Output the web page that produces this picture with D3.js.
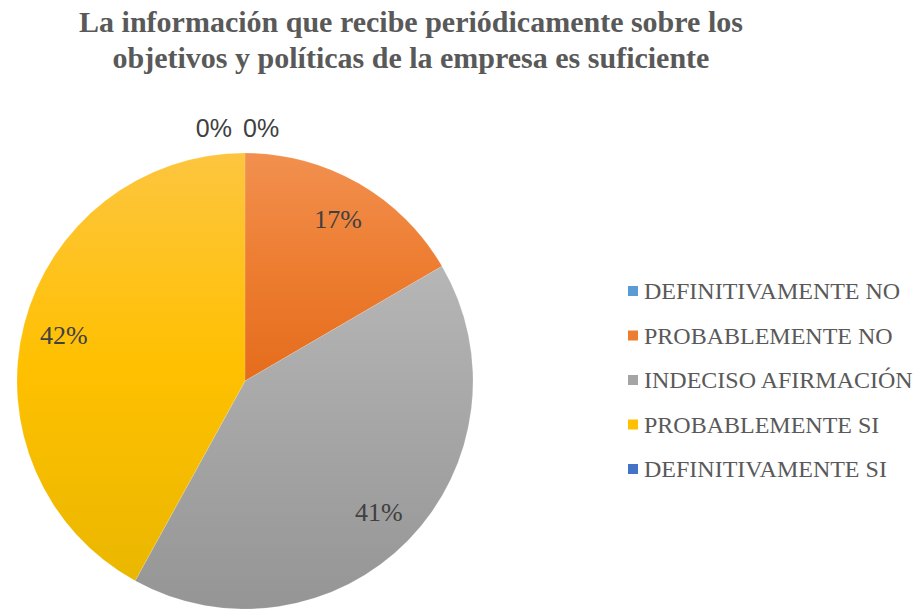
<!DOCTYPE html>
<html>
<head>
<meta charset="utf-8">
<script src="https://cdn.jsdelivr.net/npm/d3@7"></script>
<style>
  body { margin: 0; background: #fff; }
  .serif { font-family: "Times New Roman", Times, "Liberation Serif", "DejaVu Serif", "Noto Serif", "FreeSerif", serif; }
  .sans { font-family: "Liberation Sans", Arial, sans-serif; }
</style>
</head>
<body>
<div id="chart"></div>
<script>
// data
const categories = ["DEFINITIVAMENTE NO", "PROBABLEMENTE NO", "INDECISO AFIRMACIÓN", "PROBABLEMENTE SI", "DEFINITIVAMENTE SI"];
const values = [0, 16.6, 41.4, 42.0, 0];
const titleLines = ["La información que recibe periódicamente sobre los", "objetivos y políticas de la empresa es suficiente"];

// colours (top / bottom of gradient, legend swatch)
const baseColors = ["#5B9BD5", "#ED7D31", "#A5A5A5", "#FFC000", "#4472C4"];
const topColors = ["#6FA8DC", "#F2904F", "#B6B6B6", "#FDC53F", "#5580CC"];
const bottomColors = ["#4F8CC4", "#E56C1C", "#959595", "#EAB700", "#3A66B5"];

const width = 919, height = 614;
const cx = 245, cy = 381, radius = 228;

const svg = d3.select("#chart").append("svg")
  .attr("width", width)
  .attr("height", height);

const defs = svg.append("defs");
categories.forEach((c, i) => {
  const g = defs.append("linearGradient")
    .attr("id", "grad" + i)
    .attr("x1", 0).attr("y1", 0).attr("x2", 0).attr("y2", 1);
  g.append("stop").attr("offset", "0%").attr("stop-color", topColors[i]);
  g.append("stop").attr("offset", "50%").attr("stop-color", baseColors[i]);
  g.append("stop").attr("offset", "100%").attr("stop-color", bottomColors[i]);
});

// title
svg.append("g")
  .selectAll("text")
  .data(titleLines)
  .join("text")
  .attr("class", "serif")
  .attr("x", 411)
  .attr("y", (d, i) => 32 + i * 36)
  .attr("text-anchor", "middle")
  .attr("font-weight", "bold")
  .attr("font-size", 30)
  .attr("fill", "#595959")
  .text(d => d);

// pie
const pie = d3.pie().sort(null).value(d => d);
const arcs = pie(values);
const arc = d3.arc().innerRadius(0).outerRadius(radius);
const labelArc = d3.arc().innerRadius(radius * 0.82).outerRadius(radius * 0.82);

const g = svg.append("g").attr("transform", `translate(${cx},${cy})`);

g.selectAll("path.slice")
  .data(arcs)
  .join("path")
  .attr("class", "slice")
  .attr("d", arc)
  .attr("fill", (d, i) => `url(#grad${i})`)
  .attr("stroke", (d, i) => d.value > 0 ? "rgba(255,255,255,0.25)" : "none")
  .attr("stroke-width", 0.5);

// percentage labels
const total = d3.sum(values);
const pct = v => Math.round(v / total * 100) + "%";

g.selectAll("text.lbl")
  .data(arcs.filter(d => d.value > 0))
  .join("text")
  .attr("class", "lbl serif")
  .attr("transform", d => `translate(${labelArc.centroid(d)})`)
  .attr("text-anchor", "middle")
  .attr("dy", "0.35em")
  .attr("font-size", 26)
  .attr("fill", "#404040")
  .text(d => pct(d.value));

// zero slices sit outside the top of the pie
const zeroArcs = arcs.filter(d => d.value === 0);
g.selectAll("text.zero")
  .data(zeroArcs)
  .join("text")
  .attr("class", "zero sans")
  .attr("x", d => d.startAngle < Math.PI ? -2 : -13)
  .attr("y", -radius - 16)
  .attr("text-anchor", d => d.startAngle < Math.PI ? "start" : "end")
  .attr("font-size", 25)
  .attr("fill", "#404040")
  .text(d => pct(d.value));

// legend
const legend = svg.append("g").attr("transform", "translate(628,291)");
const rows = legend.selectAll("g")
  .data(categories)
  .join("g")
  .attr("transform", (d, i) => `translate(0,${i * 44.5})`);

rows.append("rect")
  .attr("x", 0).attr("y", -5)
  .attr("width", 10).attr("height", 10)
  .attr("fill", (d, i) => baseColors[i]);

rows.append("text")
  .attr("class", "serif")
  .attr("x", 16)
  .attr("dy", "0.35em")
  .attr("font-size", 24)
  .attr("fill", "#595959")
  .text(d => d);
</script>
</body>
</html>
